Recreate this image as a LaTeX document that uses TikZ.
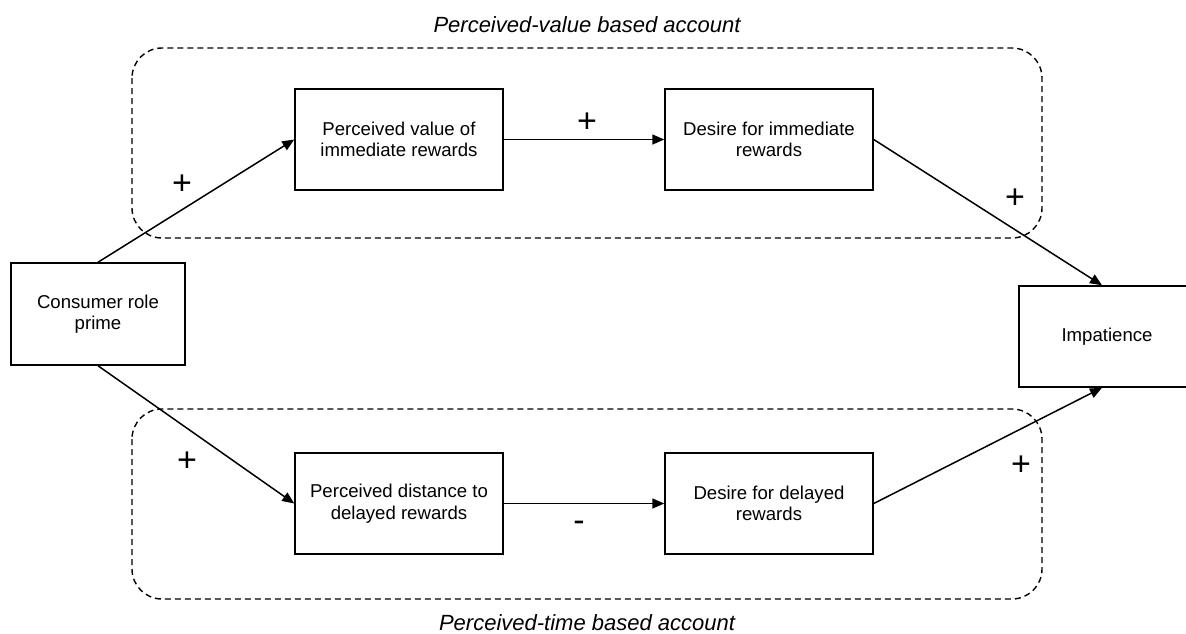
\documentclass[tikz,border=0pt]{standalone}
\usepackage{fontspec}
\setmainfont{Liberation Sans}
\usetikzlibrary{arrows.meta,calc}
\tikzset{
  box/.style={draw, line width=1.5pt, minimum width=208pt, minimum height=101pt, align=center, inner sep=2pt, font=\fontsize{18.6}{21.5}\selectfont},
  link/.style={line width=1.5pt, -{Triangle[length=12pt,width=10pt]}},
  group/.style={draw, line width=1.4pt, dash pattern=on 6pt off 4pt, rounded corners=30pt},
  sign/.style={anchor=base, inner sep=0pt, font=\fontsize{34}{34}\selectfont},
  title/.style={anchor=base, inner sep=0pt, font=\fontsize{22}{25}\itshape}
}
\begin{document}
\begin{tikzpicture}[x=1pt,y=-1pt]
\useasboundingbox (0,0) rectangle (1186,633);
\draw[group] (132,48) rectangle (1042,238);
\draw[group] (132,409) rectangle (1042,599);
\node[title] (t1) at (587,32) {Perceived-value based account};
\node[title] (t2) at (587,630) {Perceived-time based account};
\node[box, minimum width=174pt, minimum height=102pt] (cons) at (98,314) {Consumer role\\prime};
\node[box] (pv) at (399,139.5) {Perceived value of\\immediate rewards};
\node[box] (di) at (769,139.5) {Desire for immediate\\rewards};
\node[box] (pd) at (399,503.5) {Perceived distance to\\delayed rewards};
\node[box] (dd) at (769,503.5) {Desire for delayed\\rewards};
\node[box, minimum width=176pt] (imp) at (1107,336.5) {Impatience};
\draw[link] (cons.north) -- (pv.west);
\draw[link] (cons.south) -- (pd.west);
\draw[link] (pv.east) -- (di.west);
\draw[link] (pd.east) -- (dd.west);
\draw[link] (di.east) -- ([xshift=-5pt]imp.north);
\draw[link] (dd.east) -- ([xshift=-5pt]imp.south);
\node[sign] (s1) at (182,194) {+};
\node[sign] (s2) at (587,132) {+};
\node[sign] (s3) at (1015,208) {+};
\node[sign] (s4) at (187,471) {+};
\node[sign] (s5) at (1021,475) {+};
\node[sign] (s6) at (579,531) {-};
\end{tikzpicture}
\end{document}
